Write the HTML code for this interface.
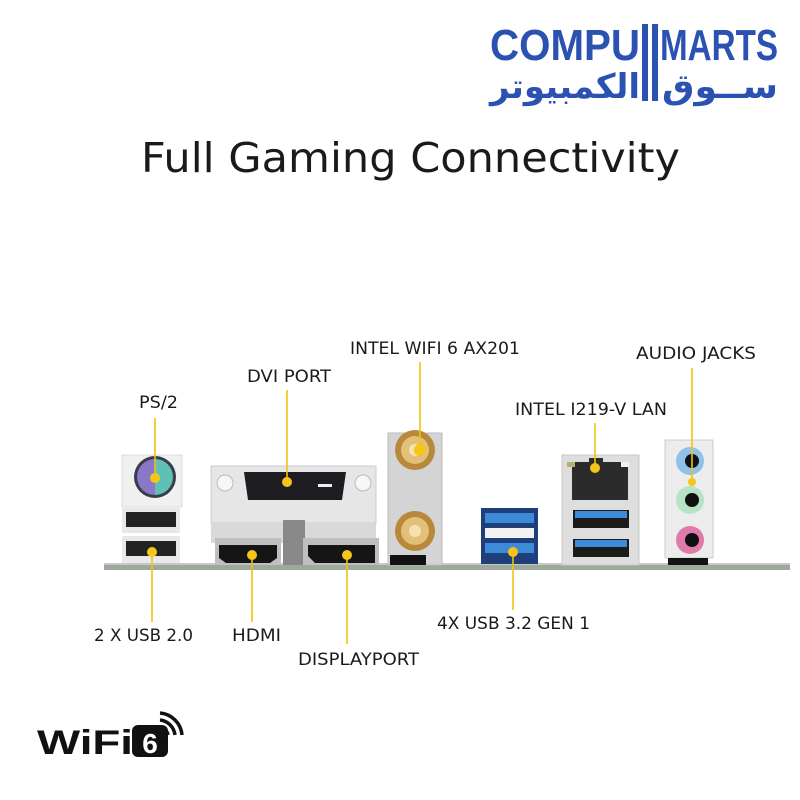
<!DOCTYPE html>
<html><head><meta charset="utf-8"><style>
html,body{margin:0;padding:0;background:#fff;}
svg{display:block;}
text{font-family:"DejaVu Sans","Liberation Sans",sans-serif;}
</style></head><body>
<svg width="800" height="800" viewBox="0 0 800 800" xmlns="http://www.w3.org/2000/svg">
<rect width="800" height="800" fill="#fff"/>
<!-- Logo -->
<text x="490" y="60" font-weight="bold" font-size="44" fill="#2b52b3" textLength="150" lengthAdjust="spacingAndGlyphs" style="font-family:'Liberation Sans',sans-serif">COMPU</text>
<rect x="642" y="24" width="6" height="77" fill="#2b52b3"/>
<rect x="652" y="24" width="6" height="77" fill="#2b52b3"/>
<text x="660" y="60" font-weight="bold" font-size="44" fill="#2b52b3" textLength="118" lengthAdjust="spacingAndGlyphs" style="font-family:'Liberation Sans',sans-serif">MARTS</text>
<text x="490" y="98" font-weight="bold" font-size="34" fill="#2b52b3" textLength="150" lengthAdjust="spacingAndGlyphs" style="font-family:'DejaVu Sans',sans-serif">الكمبيوتر</text>
<text x="662" y="98" font-weight="bold" font-size="34" fill="#2b52b3" textLength="116" lengthAdjust="spacingAndGlyphs" style="font-family:'DejaVu Sans',sans-serif">ســوق</text>
<!-- Title -->
<text x="141" y="172" font-size="41" fill="#1a1a1a" textLength="539" lengthAdjust="spacingAndGlyphs">Full Gaming Connectivity</text>

<!-- board strip -->
<rect x="104" y="563" width="686" height="7" fill="#9fa89c"/>
<rect x="104" y="563" width="686" height="2" fill="#c4cbc2"/>

<!-- PS/2 + USB2 -->
<rect x="122" y="455" width="60" height="52" fill="#f0f0f0" stroke="#ddd"/>
<circle cx="155" cy="477" r="21" fill="#3b3b4a"/>
<path d="M155 459 A18 18 0 0 0 155 495 Z" fill="#8a77c8"/>
<path d="M155 459 A18 18 0 0 1 155 495 Z" fill="#5fc0b5"/>
<rect x="122" y="508" width="58" height="25" fill="#e8e8e8"/>
<rect x="126" y="512" width="50" height="15" fill="#222"/>
<rect x="122" y="536" width="58" height="27" fill="#e8e8e8"/>
<rect x="126" y="541" width="50" height="15" fill="#222"/>

<!-- DVI -->
<rect x="211" y="466" width="165" height="57" fill="#e6e6e6" stroke="#ccc"/>
<circle cx="225" cy="483" r="8" fill="#f6f6f6" stroke="#bbb"/>
<circle cx="363" cy="483" r="8" fill="#f6f6f6" stroke="#bbb"/>
<path d="M244 472 H346 L342 500 H248 Z" fill="#1e1e22"/>
<rect x="318" y="484" width="14" height="3" fill="#eee"/>
<rect x="211" y="523" width="165" height="20" fill="#d9d9d9"/>
<rect x="215" y="538" width="66" height="27" fill="#bfbfbf"/>
<path d="M219 545 H277 V558 L270 563 H226 L219 558 Z" fill="#151515"/>
<rect x="283" y="520" width="22" height="45" fill="#888"/>
<rect x="303" y="538" width="76" height="27" fill="#bfbfbf"/>
<path d="M308 545 H375 V563 H315 L308 556 Z" fill="#151515"/>

<!-- WiFi antenna panel -->
<rect x="388" y="433" width="54" height="132" fill="#d4d4d4" stroke="#bbb"/>
<rect x="390" y="555" width="36" height="10" fill="#111"/>
<circle cx="415" cy="450" r="20" fill="#b8893a"/>
<circle cx="415" cy="450" r="14" fill="#e2c07a"/>
<circle cx="415" cy="450" r="6" fill="#f5e2b0"/>
<circle cx="415" cy="531" r="20" fill="#b8893a"/>
<circle cx="415" cy="531" r="14" fill="#e2c07a"/>
<circle cx="415" cy="531" r="6" fill="#f5e2b0"/>

<!-- Blue USB3 stack -->
<rect x="481" y="508" width="57" height="56" fill="#1f3f7a"/>
<rect x="485" y="513" width="49" height="10" fill="#3d8ad8"/>
<rect x="485" y="528" width="49" height="10" fill="#f2f2f2"/>
<rect x="485" y="543" width="49" height="10" fill="#3d8ad8"/>

<!-- LAN + USB -->
<rect x="562" y="455" width="77" height="110" fill="#dedede" stroke="#c8c8c8"/>
<path d="M572 462 H589 V458 H603 V462 H628 V500 H572 Z" fill="#2b2b2b"/>
<rect x="567" y="462" width="8" height="5" fill="#b9b16a"/>
<rect x="621" y="462" width="8" height="5" fill="#f0f0f0"/>
<rect x="573" y="510" width="56" height="18" fill="#1b1b1b"/>
<rect x="575" y="511" width="52" height="7" fill="#3d8ad8"/>
<rect x="573" y="539" width="56" height="18" fill="#1b1b1b"/>
<rect x="575" y="540" width="52" height="7" fill="#3d8ad8"/>

<!-- Audio -->
<rect x="665" y="440" width="48" height="118" fill="#ececec" stroke="#ccc"/>
<rect x="668" y="558" width="40" height="7" fill="#111"/>
<circle cx="690" cy="461" r="14" fill="#8ec2e8"/><circle cx="692" cy="461" r="7" fill="#111"/>
<circle cx="690" cy="500" r="14" fill="#b6e2c8"/><circle cx="692" cy="500" r="7" fill="#111"/>
<circle cx="690" cy="540" r="14" fill="#e07aa8"/><circle cx="692" cy="540" r="7" fill="#111"/>

<!-- connectors -->
<g stroke="#f0c20c" stroke-width="1.6" fill="none">
<line x1="155" y1="418" x2="155" y2="478"/>
<line x1="287" y1="390" x2="287" y2="482"/>
<line x1="420" y1="362" x2="420" y2="450"/>
<line x1="595" y1="423" x2="595" y2="468"/>
<line x1="692" y1="368" x2="692" y2="482"/>
<line x1="152" y1="552" x2="152" y2="622"/>
<line x1="252" y1="555" x2="252" y2="622"/>
<line x1="347" y1="555" x2="347" y2="644"/>
<line x1="513" y1="552" x2="513" y2="610"/>
</g>
<g fill="#f5c518">
<circle cx="155" cy="478" r="5"/><circle cx="287" cy="482" r="5"/><circle cx="420" cy="450" r="6"/>
<circle cx="595" cy="468" r="5"/><circle cx="692" cy="482" r="4"/>
<circle cx="152" cy="552" r="5"/><circle cx="252" cy="555" r="5"/><circle cx="347" cy="555" r="5"/><circle cx="513" cy="552" r="5"/>
</g>

<!-- labels -->
<g font-size="17" fill="#1a1a1a">
<text x="139" y="408" textLength="39" lengthAdjust="spacingAndGlyphs">PS/2</text>
<text x="247" y="382" textLength="84" lengthAdjust="spacingAndGlyphs">DVI PORT</text>
<text x="350" y="354" textLength="170" lengthAdjust="spacingAndGlyphs">INTEL WIFI 6 AX201</text>
<text x="515" y="415" textLength="152" lengthAdjust="spacingAndGlyphs">INTEL I219-V LAN</text>
<text x="636" y="359" textLength="120" lengthAdjust="spacingAndGlyphs">AUDIO JACKS</text>
<text x="94" y="641" textLength="99" lengthAdjust="spacingAndGlyphs">2 X USB 2.0</text>
<text x="232" y="641" textLength="49" lengthAdjust="spacingAndGlyphs">HDMI</text>
<text x="298" y="665" textLength="121" lengthAdjust="spacingAndGlyphs">DISPLAYPORT</text>
<text x="437" y="629" textLength="153" lengthAdjust="spacingAndGlyphs">4X USB 3.2 GEN 1</text>
</g>

<!-- WiFi6 logo -->
<text x="37" y="754" font-size="34" font-weight="bold" fill="#111" textLength="96" lengthAdjust="spacingAndGlyphs" style="font-family:'Liberation Sans',sans-serif">WiFi</text>
<rect x="132" y="725" width="36" height="32" rx="6" fill="#111"/>
<text x="150" y="753" font-size="28" font-weight="bold" fill="#fff" text-anchor="middle" style="font-family:'Liberation Sans',sans-serif">6</text>
<path d="M160 727 A10 10 0 0 1 168 735" stroke="#111" stroke-width="3.5" fill="none"/>
<path d="M160 720 A17 17 0 0 1 175 735" stroke="#111" stroke-width="3.5" fill="none"/>
<path d="M160 713 A24 24 0 0 1 182 735" stroke="#111" stroke-width="3.5" fill="none"/>
</svg>
</body></html>
